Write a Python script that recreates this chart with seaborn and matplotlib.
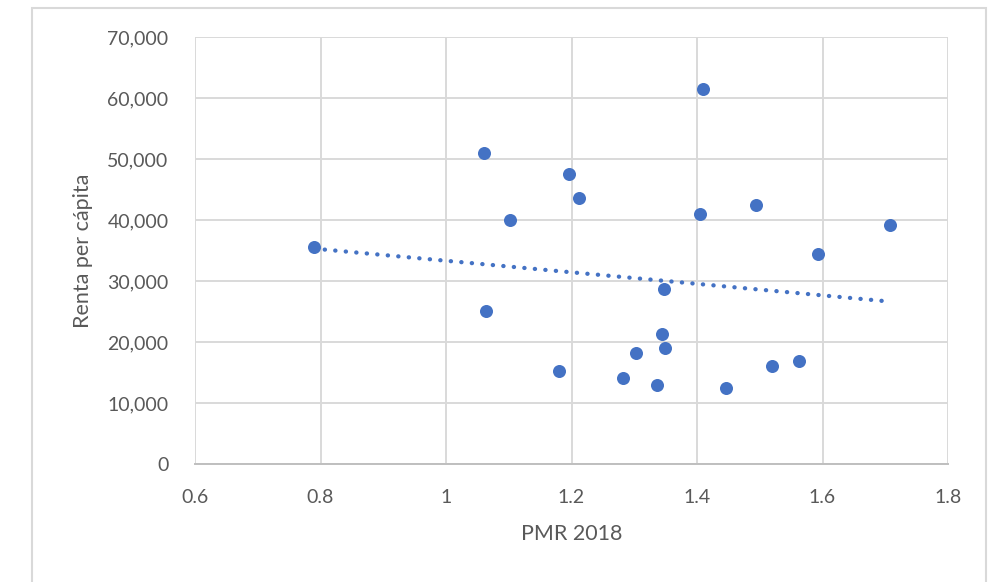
import matplotlib
matplotlib.use("Agg")
import matplotlib.pyplot as plt
from matplotlib.patches import Rectangle
from matplotlib.ticker import FuncFormatter
import numpy as np
import pandas as pd
import seaborn as sns

# PMR 2018 index and income per capita by country
pmr_2018 = [0.790, 1.060, 1.102, 1.409, 1.196, 1.212, 1.405, 1.494, 1.707, 1.593,
            1.063, 1.348, 1.345, 1.349, 1.302, 1.180, 1.282, 1.337, 1.447, 1.520, 1.562]
renta_per_capita = [35650, 50950, 40030, 61500, 47600, 43580, 40950, 42400, 39250, 34400,
                    25100, 28650, 21300, 18950, 18150, 15250, 14150, 12900, 12500, 16080, 16950]

x_ticks = [0.6, 0.8, 1.0, 1.2, 1.4, 1.6, 1.8]
y_ticks = [0, 10000, 20000, 30000, 40000, 50000, 60000, 70000]

df = pd.DataFrame({"PMR 2018": pmr_2018, "Renta per cápita": renta_per_capita})

sns.set_theme(style="white")
plt.rcParams["font.family"] = ["Lato", "DejaVu Sans"]

BLUE = "#4472C4"
GRID = "#d9d9d9"
TEXT = "#595959"

fig = plt.figure(figsize=(9.92, 5.82), dpi=100)
fig.patch.set_facecolor("white")
ax = fig.add_axes([195 / 992, 118 / 582, 753 / 992, 427 / 582])

sns.regplot(
    data=df, x="PMR 2018", y="Renta per cápita", ax=ax, ci=None, truncate=True,
    scatter_kws=dict(s=88, color=BLUE, edgecolors=BLUE, linewidths=0, alpha=1, zorder=3),
    line_kws=dict(color=BLUE, lw=3.1, linestyle=(0, (0.05, 2.4)),
                  dash_capstyle="round", zorder=2),
)

ax.set_xlim(0.6, 1.8)
ax.set_ylim(0, 70000)
ax.set_xticks(x_ticks)
ax.set_yticks(y_ticks)
ax.xaxis.set_major_formatter(FuncFormatter(lambda v, p: f"{v:g}"))
ax.yaxis.set_major_formatter(FuncFormatter(lambda v, p: f"{int(v):,}"))

ax.grid(True, color=GRID, lw=1.4)
ax.set_axisbelow(True)
for name, sp in ax.spines.items():
    sp.set_visible(name == "bottom")
ax.spines["bottom"].set_color("#bfbfbf")
ax.spines["bottom"].set_linewidth(1.4)

ax.tick_params(axis="both", length=0, labelsize=14, labelcolor=TEXT)
ax.tick_params(axis="y", pad=19)
ax.tick_params(axis="x", pad=18)

ax.set_xlabel("PMR 2018", fontsize=15.5, color=TEXT, labelpad=13)
ax.set_ylabel("Renta per cápita", fontsize=15.5, color=TEXT, labelpad=10)

# chart-area frame
fig.add_artist(Rectangle((32 / 992, -0.05), 954 / 992, (574 / 582) + 0.05,
                         transform=fig.transFigure, fill=False,
                         edgecolor="#d9d9d9", lw=1.5))

fig.savefig("out.png", dpi=100, facecolor="white")
